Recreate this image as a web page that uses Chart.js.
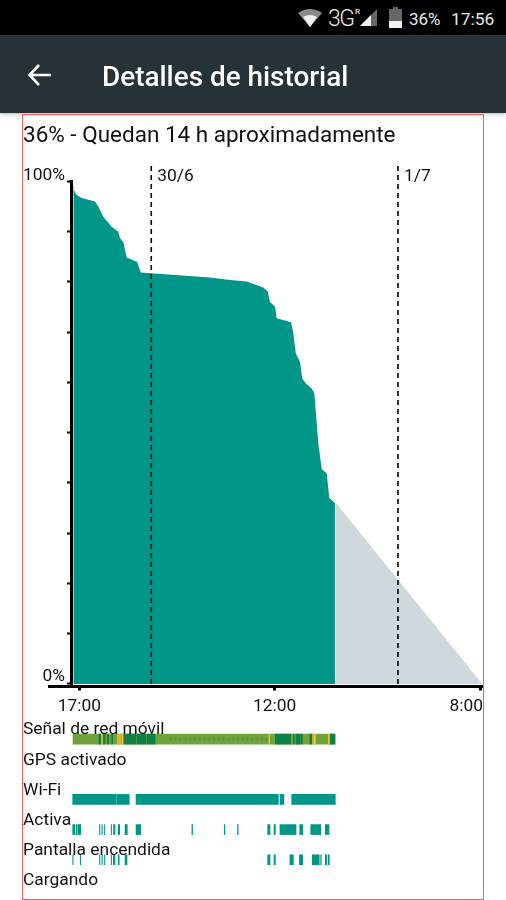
<!DOCTYPE html>
<html lang="es">
<head>
<meta charset="utf-8">
<title>Detalles de historial</title>
<script src="https://cdn.jsdelivr.net/npm/chart.js@4"></script>
<style>
    html, body { margin: 0; padding: 0; background: #fff; }
    body { position: relative; width: 506px; height: 900px; overflow: hidden; font-family: Roboto, sans-serif; color: #111; }
    #statusBar { position: absolute; left: 0; top: 0; width: 506px; height: 35px; background: #000; color: #e8e8e8; }
    #statusBar span { position: absolute; line-height: 20px; top: 9px; }
    #appBar { position: absolute; left: 0; top: 35px; width: 506px; height: 78px; background: #263238; box-shadow: 0 1px 4px rgba(0, 0, 0, .3); }
    #appBar h1 { position: absolute; left: 102px; top: 23px; margin: 0; font-size: 27.9px; line-height: 38px; font-weight: 500; color: #fff; }
    #estimate { position: absolute; left: 23px; top: 120px; font-size: 22.5px; line-height: 28px; }
    #frame { position: absolute; left: 22px; top: 114px; width: 460px; height: 784px; border: 1px solid #f45f5f; z-index: 5; pointer-events: none; }
    canvas { position: absolute; left: 0; }
    #chartBattery { top: 0; }
    #chartLanes { top: 714px; }
    svg { position: absolute; }
</style>
</head>
<body>
<canvas id="chartBattery" width="506" height="900"></canvas>
<canvas id="chartLanes" width="506" height="191"></canvas>

<div id="statusBar">
    <svg style="left:297px;top:8px" width="26" height="20" viewBox="0 0 26 20">
        <path d="M1 5 Q13 -3 25 5 L13 19 Z" fill="#8a8a8a"/>
        <path d="M6 9 Q13 5 20 9 L13 19 Z" fill="#f0f0f0"/>
    </svg>
    <span style="left:328px;top:9px;font-size:23px;font-weight:300;letter-spacing:-1.5px">3G</span>
    <span style="left:355px;top:2px;font-size:8px;font-weight:500">R</span>
    <svg style="left:360px;top:8px" width="18" height="19" viewBox="0 0 18 19">
        <path d="M0 18 L17 1 V18 Z" fill="#666"/>
        <path d="M0 18 L11 7 V18 Z" fill="#eee"/>
    </svg>
    <svg style="left:389px;top:7px" width="13" height="21" viewBox="0 0 13 21">
        <path d="M4 0 H9 V2 H13 V21 H0 V2 H4 Z" fill="#666"/>
        <rect x="0" y="14" width="13" height="7" fill="#f0f0f0"/>
    </svg>
    <span style="left:409px;font-size:17px;font-weight:400">36%</span>
    <span style="left:451px;font-size:17.4px;font-weight:400">17:56</span>
</div>

<div id="appBar">
    <svg style="left:27px;top:28px" width="25" height="24" viewBox="0 0 25 24">
        <path d="M24 12 H3 M12 2 L2.5 12 L12 22" fill="none" stroke="#fff" stroke-width="2.6"/>
    </svg>
    <h1>Detalles de historial</h1>
</div>

<div id="estimate">36% - Quedan 14 h aproximadamente</div>
<div id="frame"></div>

<script>
// horas desde las 17:00 del primer dia
const batteryHours = [-0.58, -0.52, -0.25, 0.23, 1.53, 1.85, 2.33, 3.15, 3.79, 3.96, 4.28, 4.61, 5.64, 5.97,
    12.71, 14.66, 16.28, 17.9, 18.33, 18.55, 19.04, 19.2, 20.6, 20.82, 21.05, 21.47, 21.69, 22.05, 22.6, 22.86,
    23.25, 23.58, 24.07, 24.32, 24.87];
const batteryLevel = [100, 98.3, 97.3, 96.7, 96, 95, 93, 91, 90, 88.7, 88, 84.9, 84, 81.9,
    80.9, 80.4, 80.1, 78.9, 78.1, 76, 75.1, 72.8, 72, 69.8, 65.8, 64.1, 60.8, 59.8, 58.8, 57.9,
    47.9, 42.8, 41.9, 37, 36];

const forecastHours = [24.97, 39.2];
const forecastLevel = [36, 0];

const dayHours = [7, 31];
const dayLabels = ["30/6", "1/7"];
const dayLineTop = 103.4;

const yTicks = [0, 10, 20, 30, 40, 50, 60, 70, 80, 90, 100];
const yTickLabels = { 0: "0%", 100: "100%" };
const xTicks = [0, 19, 39];
const xTickLabels = ["17:00", "12:00", "8:00"];

const laneLabels = ["Señal de red móvil", "GPS activado", "Wi-Fi", "Activa", "Pantalla encendida", "Cargando"];

const signalBase = [[-0.61, 24.87]];
const signalStrong = [[1.92, 2.08], [2.33, 2.5], [2.72, 2.86], [3.15, 3.25], [4.35, 4.54], [4.61, 5.52], [5.64, 6.49],
    [6.61, 7.36], [19.07, 20.56], [20.82, 20.91], [21.08, 21.47], [21.57, 21.69], [22.44, 22.64], [24.39, 24.87]];
const signalWeak = [[2.18, 2.26], [3.72, 3.8], [3.92, 4], [4.15, 4.25], [18.45, 18.52], [22.7, 22.76],
    [22.86, 22.98], [24.22, 24.32]];
const signalBlips = [[8.9, 8.96], [9.35, 9.41], [9.8, 9.86], [10.3, 10.36], [10.75, 10.81], [11.2, 11.26], [11.7, 11.76],
    [12.15, 12.21], [12.6, 12.66], [13.1, 13.16], [13.55, 13.61], [14, 14.06], [14.5, 14.56], [14.95, 15.01],
    [15.4, 15.46], [15.9, 15.96], [16.35, 16.41], [16.8, 16.86], [17.3, 17.36], [17.75, 17.81], [18.2, 18.26]];
const wifiOn = [[-0.64, 3.57], [3.64, 4.86], [5.52, 19.36], [19.52, 19.91], [20.66, 24.9]];
const awake = [[-0.64, -0.42], [-0.29, -0.22], [-0.13, 0.14], [1.97, 2.01], [2.2, 2.24], [2.45, 2.49], [3.1, 3.14],
    [3.33, 3.47], [3.79, 3.93], [4.45, 4.67], [5.52, 5.97], [10.95, 11.02], [14.1, 14.16], [15.39, 15.45],
    [18.33, 18.55], [18.94, 19.07], [19.52, 21.08], [21.44, 21.73], [22.51, 23.48], [23.93, 24.29]];
const screenOn = [[-0.64, -0.6], [0.09, 0.13], [1.97, 2.01], [2.2, 2.24], [2.45, 2.49], [3.1, 3.14], [3.31, 3.47],
    [3.79, 3.88], [4.45, 4.64], [18.33, 18.55], [18.94, 19.07], [20.49, 20.82], [21.41, 21.73], [22.66, 23.34],
    [23.48, 23.54], [23.93, 24.06], [24.2, 24.32]];

const xMin = -0.807;
const xMax = 39.27;
const teal = "#009688";
const labelFont = "17.4px Roboto";

function toPoints(xs, ys) {
    return xs.map((x, i) => ({ x: x, y: ys[i] }));
}

function dayLine(hour) {
    return {
        data: [{ x: hour, y: 0 }, { x: hour, y: dayLineTop }],
        borderColor: "#000",
        borderWidth: 1.6,
        borderDash: [5, 4],
        pointRadius: 0,
        clip: false,
        order: 0,
    };
}

// textos de los ejes y el tramo del eje X que sobresale a la izquierda
const axisText = {
    id: "axisText",
    afterDraw(chart) {
        const ctx = chart.ctx;
        const x = chart.scales.x;
        const y = chart.scales.y;
        ctx.save();
        ctx.fillStyle = "#000";
        ctx.fillRect(48, y.bottom - 1.5, x.left - 48, 3);
        ctx.fillStyle = "#111";
        ctx.font = labelFont;
        ctx.textBaseline = "middle";

        ctx.textAlign = "right";
        Object.keys(yTickLabels).forEach(v => {
            ctx.fillText(yTickLabels[v], 65, y.getPixelForValue(+v) - (+v === 100 ? 5.5 : 7.5));
        });

        ctx.textAlign = "center";
        xTicks.forEach((v, i) => {
            const w = ctx.measureText(xTickLabels[i]).width;
            const px = Math.min(x.getPixelForValue(v), x.right - w / 2);
            ctx.fillText(xTickLabels[i], px, y.bottom + 20);
        });

        ctx.textAlign = "left";
        dayHours.forEach((v, i) => {
            ctx.fillText(dayLabels[i], x.getPixelForValue(v) + 6, 176.5);
        });
        ctx.restore();
    },
};

new Chart(document.getElementById("chartBattery").getContext("2d"), {
    type: "line",
    data: {
        datasets: [
            dayLine(dayHours[0]),
            dayLine(dayHours[1]),
            {
                data: toPoints(batteryHours, batteryLevel),
                borderWidth: 0,
                backgroundColor: teal,
                fill: { value: 0 },
                pointRadius: 0,
                order: 1,
            },
            {
                data: toPoints(forecastHours, forecastLevel),
                borderWidth: 0,
                backgroundColor: "#cfd8dc",
                fill: { value: 0 },
                pointRadius: 0,
                order: 2,
            },
        ],
    },
    options: {
        responsive: false,
        animation: false,
        events: [],
        layout: { padding: { top: 181.5, right: 23, bottom: 213.5, left: 0 } },
        plugins: { legend: { display: false }, tooltip: { enabled: false } },
        scales: {
            x: {
                type: "linear",
                min: xMin,
                max: xMax,
                afterBuildTicks: s => { s.ticks = xTicks.map(v => ({ value: v })); },
                afterFit: s => { s.height = 0; },
                ticks: { display: false },
                border: { color: "#000", width: 3 },
                grid: { drawOnChartArea: false, color: "#000", tickLength: 4, tickWidth: 3 },
            },
            y: {
                min: -0.5,
                max: 100,
                afterBuildTicks: s => { s.ticks = yTicks.map(v => ({ value: v })); },
                afterFit: s => { s.width = 71; },
                ticks: { display: false },
                border: { color: "#000", width: 3 },
                grid: { drawOnChartArea: false, color: "#000", tickLength: 4, tickWidth: 2 },
            },
        },
    },
    plugins: [axisText],
});

function lane(label, spans, color, order, thickness) {
    return {
        data: spans.map(s => ({ x: s, y: label })),
        backgroundColor: color,
        barThickness: thickness || 10,
        grouped: false,
        order: order,
    };
}

// nombre de cada fila, justo encima de su barra
const laneText = {
    id: "laneText",
    afterDraw(chart) {
        const ctx = chart.ctx;
        const y = chart.scales.y;
        ctx.save();
        ctx.fillStyle = "#111";
        ctx.font = labelFont;
        ctx.textBaseline = "middle";
        ctx.textAlign = "left";
        laneLabels.forEach((name, i) => {
            ctx.fillText(name, 23, y.getPixelForValue(i) - 9);
        });
        ctx.restore();
    },
};

new Chart(document.getElementById("chartLanes").getContext("2d"), {
    type: "bar",
    data: {
        labels: laneLabels,
        datasets: [
            lane(laneLabels[0], signalWeak, "#fbc02d", 0),
            lane(laneLabels[0], signalBlips, "#4f9645", 0, 2),
            lane(laneLabels[0], signalStrong, "#0f7f48", 1),
            lane(laneLabels[0], signalBase, "#6fa13d", 2),
            lane(laneLabels[2], wifiOn, teal, 3),
            lane(laneLabels[3], awake, teal, 3),
            lane(laneLabels[4], screenOn, teal, 3),
        ],
    },
    options: {
        indexAxis: "y",
        responsive: false,
        animation: false,
        events: [],
        layout: { padding: { top: 10, right: 23, bottom: 0, left: 71 } },
        plugins: { legend: { display: false }, tooltip: { enabled: false } },
        scales: {
            x: { type: "linear", min: xMin, max: xMax, display: false },
            y: { type: "category", display: false },
        },
    },
    plugins: [laneText],
});
</script>
</body>
</html>
